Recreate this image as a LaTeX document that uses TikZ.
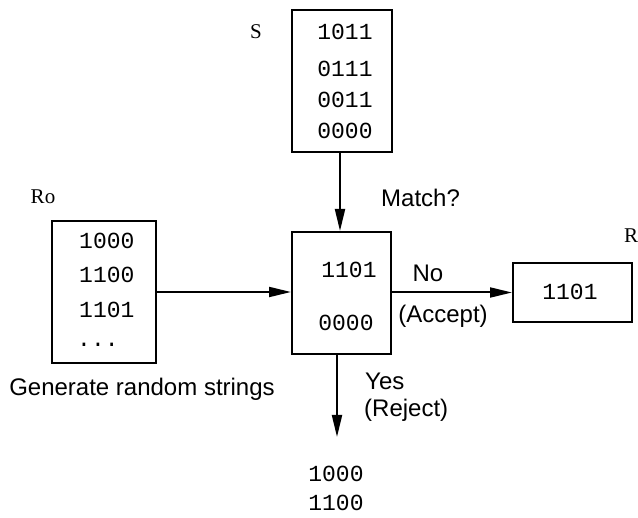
\documentclass[tikz,border=0pt]{standalone}
\usepackage{fontspec}
\setmainfont{Liberation Serif}
\setsansfont{Liberation Sans}
\setmonofont{Liberation Mono}
\usetikzlibrary{arrows.meta}
\tikzset{
  box/.style={draw, line width=2pt, inner sep=0pt},
  bits/.style={font=\ttfamily\fontsize{23}{27}\selectfont, inner sep=0pt, anchor=center},
  lab/.style={font=\sffamily\fontsize{24}{28}\selectfont, inner sep=0pt},
  serlab/.style={font=\rmfamily\fontsize{21}{25}\selectfont, inner sep=0pt},
  conn/.style={line width=2pt, -{Triangle[length=22pt, width=10pt]}},
}
\begin{document}
\begin{tikzpicture}[x=1pt, y=-1pt]
\useasboundingbox (0,0) rectangle (638,518);
% S box
\node[box, minimum width=100pt, minimum height=142pt] (sbox) at (342,81) {};
\node[bits] (s1) at (345,32) {1011};
\node[bits] (s2) at (345,69) {0111};
\node[bits] (s3) at (345,100) {0011};
\node[bits] (s4) at (345,131) {0000};
\node[serlab] (slab) at (256,32) {S};
% center box
\node[box, minimum width=99pt, minimum height=122pt] (cbox) at (341.5,293) {};
\node[bits] (c1) at (349,270) {1101};
\node[bits] (c2) at (346,323) {0000};
\node[lab, anchor=west] (match) at (381,198) {Match?};
% Ro box
\node[box, minimum width=104pt, minimum height=142pt] (robox) at (104,292) {};
\node[bits, anchor=west] (r1) at (79,241) {1000};
\node[bits, anchor=west] (r2) at (79,275) {1100};
\node[bits, anchor=west] (r3) at (79,310) {1101};
\node[bits, anchor=west] (r4) at (77,345) {...};
\node[serlab] (rolab) at (43,197) {Ro};
\node[lab] (gen) at (142,389) {Generate random strings};
% R box
\node[box, minimum width=119pt, minimum height=59pt] (rbox) at (572.5,292.5) {};
\node[bits] (rb1) at (570,292) {1101};
\node[serlab, anchor=west] (rlab) at (624,236) {R};
% labels
\node[lab] (no) at (428,273) {No};
\node[lab] (acc) at (443,316) {(Accept)};
\node[lab, anchor=west] (yes) at (365,381) {Yes};
\node[lab, anchor=west] (rej) at (364,410) {(Reject)};
% bottom
\node[bits] (b1) at (336,474) {1000};
\node[bits] (b2) at (336,503) {1100};
% connectors
\draw[conn] (sbox.south -| 340,0) -- (cbox.north -| 340,0);
\draw[conn] (robox.east) -- (cbox.west |- robox.east);
\draw[conn] (cbox.east |- rbox.west) -- (rbox.west);
\coordinate (yend) at (337,437);
\draw[conn] (cbox.south -| yend) -- (yend);
\end{tikzpicture}
\end{document}
